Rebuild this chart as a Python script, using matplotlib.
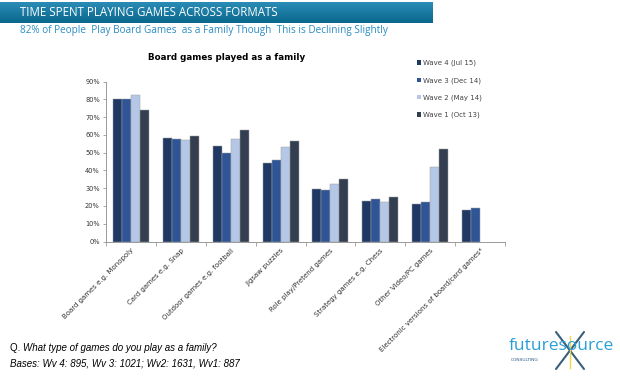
import matplotlib
matplotlib.use("Agg")
import matplotlib.pyplot as plt
import numpy as np
from matplotlib.colors import LinearSegmentedColormap

categories = ["Board games e.g. Monopoly", "Card games e.g. Snap", "Outdoor games e.g. football",
              "Jigsaw puzzles", "Role play/Pretend games", "Strategy games e.g. Chess",
              "Other Video/PC games", "Electronic versions of board/card games*"]
series_names = ["Wave 4 (Jul 15)", "Wave 3 (Dec 14)", "Wave 2 (May 14)", "Wave 1 (Oct 13)"]
wave4 = [80.5, 58.5, 54.0, 44.0, 29.5, 23.0, 21.0, 17.5]
wave3 = [80.0, 57.5, 50.0, 46.0, 29.0, 24.0, 22.0, 19.0]
wave2 = [82.5, 57.0, 58.0, 53.0, 32.5, 22.0, 42.0, np.nan]
wave1 = [74.0, 59.5, 63.0, 56.5, 35.0, 25.0, 52.0, np.nan]
yticks = [0, 10, 20, 30, 40, 50, 60, 70, 80, 90]
colors = ["#1f3864", "#2f5597", "#b4c7e7", "#333f50"]

W, H = 620, 381
fig = plt.figure(figsize=(W / 100, H / 100), dpi=100)
fig.patch.set_facecolor("white")

# header banner with gradient
bax = fig.add_axes([0, 1 - 23 / H, 433 / W, 21 / H])
grad = np.linspace(0, 1, 50).reshape(-1, 1)
cm = LinearSegmentedColormap.from_list("b", ["#2a8cb6", "#0b678c"])
bax.imshow(grad, aspect="auto", cmap=cm, extent=[0, 1, 0, 1])
bax.set_axis_off()
fig.text(20 / W, 1 - 12.5 / H, "TIME SPENT PLAYING GAMES ACROSS FORMATS", color="white",
         fontsize=8.3, va="center", ha="left", family="Open Sans")
fig.text(20 / W, 1 - 31 / H, "82% of People  Play Board Games  as a Family Though  This is Declining Slightly",
         color="#2b8cc4", fontsize=7.2, va="center", ha="left", family="Open Sans")

ax = fig.add_axes([106 / W, 1 - 241.5 / H, (505 - 106) / W, (241.5 - 81.7) / H])
x = np.arange(len(categories))
bw = 0.18
data = [wave4, wave3, wave2, wave1]
for i, (vals, c, name) in enumerate(zip(data, colors, series_names)):
    ax.bar(x + (i - 1.5) * bw, vals, width=bw, color=c, edgecolor="#a0a0a0",
           linewidth=0.35, label=name, zorder=2)

ax.set_xlim(-0.5, len(categories) - 0.5)
ax.set_ylim(0, 90)
ax.set_yticks(yticks)
ax.set_yticklabels([f"{t}%" for t in yticks], fontsize=4.8, color="#333333")
ax.set_xticks(x)
ax.set_xticklabels(categories, rotation=45, ha="right", rotation_mode="anchor",
                   fontsize=5.0, color="#333333")
ax.tick_params(axis="x", length=0, pad=4)
ax.set_xticks(np.arange(-0.5, len(categories) + 0.5, 1), minor=True)
ax.tick_params(axis="x", which="minor", length=3, color="#999999", width=0.6)
ax.tick_params(axis="y", length=2.5, color="#999999", width=0.6, pad=2)
for s in ["top", "right"]:
    ax.spines[s].set_visible(False)
for s in ["left", "bottom"]:
    ax.spines[s].set_color("#999999")
    ax.spines[s].set_linewidth(0.7)

fig.text(227 / W, 1 - 58 / H, "Board games played as a family", fontsize=6.3,
         fontweight="bold", ha="center", va="center")

leg = fig.legend(loc="upper left", bbox_to_anchor=(417 / W, 1 - 60 / H), frameon=False,
                 fontsize=5.0, handlelength=0.6, handleheight=0.6, handletextpad=0.3,
                 labelspacing=1.55, borderaxespad=0, borderpad=0)
for h in leg.legend_handles:
    h.set_edgecolor("none")
for t in leg.get_texts():
    t.set_color("#444444")

# question & bases
fig.text(10 / W, 1 - 348 / H, "Q. ", fontsize=7.0, ha="left", va="center", family="Liberation Sans")
fig.text(23 / W, 1 - 348 / H, "What type of games do you play as a family?", fontsize=7.0,
         style="italic", ha="left", va="center", family="Liberation Sans")
fig.text(10 / W, 1 - 364 / H, "Bases: Wv 4: 895, Wv 3: 1021; Wv2: 1631, Wv1: 887", fontsize=7.0,
         style="italic", ha="left", va="center", family="Liberation Sans")

# logo
lax = fig.add_axes([0, 0, 1, 1], facecolor="none")
lax.set_xlim(0, W)
lax.set_ylim(H, 0)
lax.set_axis_off()
lax.plot([556, 584], [332, 369], color="#3a5f7a", lw=1.5, solid_capstyle="round")
lax.plot([556, 584], [369, 332], color="#3a5f7a", lw=1.5, solid_capstyle="round")
lax.plot([570, 570], [336, 368], color="#f2d44a", lw=1.0)
fig.text(509 / W, 1 - 346 / H, "futuresource", fontsize=12.5, color="#2a9fd6",
         ha="left", va="center", family="Open Sans")
fig.text(511 / W, 1 - 360 / H, "CONSULTING", fontsize=3.2, color="#2b5a8a", ha="left", va="center")

fig.savefig("out.png", dpi=100)
